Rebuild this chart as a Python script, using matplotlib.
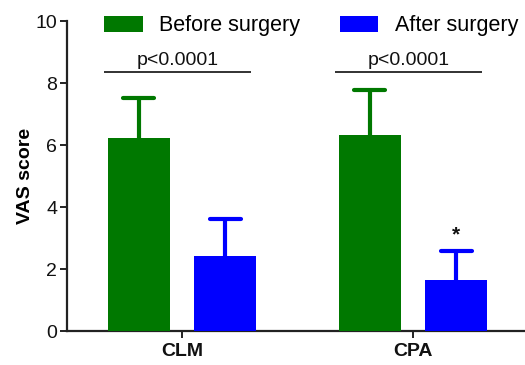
import matplotlib
matplotlib.use("Agg")
import matplotlib.pyplot as plt
from matplotlib.patches import Patch
import numpy as np

plt.rcParams['font.family'] = ['Liberation Sans', 'DejaVu Sans']

groups = ["CLM", "CPA"]
series = ["Before surgery", "After surgery"]
before_mean = [6.23, 6.32]
before_err = [1.29, 1.45]
after_mean = [2.42, 1.65]
after_err = [1.18, 0.93]
p_labels = ["p<0.0001", "p<0.0001"]
colors = ["#007800", "#0000ff"]

fig = plt.figure(figsize=(5.25, 3.65), dpi=100)
ax = fig.add_axes([67/525, 34/365, 1 - 67/525, 310/365])

x = np.arange(len(groups))
w = 0.268
off = 0.188
cap = 0.068
for i, (means, errs) in enumerate([(before_mean, before_err), (after_mean, after_err)]):
    pos = x + (-off if i == 0 else off)
    means = np.array(means)
    tops = means + np.array(errs)
    ax.vlines(pos, means, tops, colors=colors[i], lw=3.0, zorder=2)
    for p_, t_ in zip(pos, tops):
        ax.plot([p_ - cap, p_ + cap], [t_, t_], color=colors[i], lw=3.0,
                solid_capstyle='round', zorder=2)
    ax.bar(pos, means, width=w, color=colors[i], zorder=3, label=series[i])

# significance lines
for gi, lab in enumerate(p_labels):
    x0 = gi - off - w/2 - 0.015
    x1 = gi + off + w/2 - 0.025
    ax.plot([x0, x1], [8.35, 8.35], color='#222222', lw=1.3, solid_capstyle='butt', clip_on=False)
    ax.text((x0 + x1)/2, 8.45, lab, ha='center', va='bottom', fontsize=14, color='#111111')

# star on CPA after
ax.text(1 + off, after_mean[1] + after_err[1] + 0.2, "*", ha='center', va='bottom',
        fontsize=15, fontweight='bold', color='#111111')

ax.set_xlim(-0.498, 1.485)
ax.set_ylim(0, 10)
ax.set_yticks([0, 2, 4, 6, 8, 10])
ax.set_xticks(x)
ax.set_xticklabels(groups, fontsize=14, fontweight='bold')
ax.tick_params(axis='y', labelsize=14, length=5, width=1.4, color='#222222', labelcolor='#111111', pad=2)
ax.tick_params(axis='x', length=5, width=1.4, color='#222222', labelcolor='#111111', pad=4)
ax.set_ylabel("VAS score", fontsize=14, fontweight='bold', labelpad=1)
for s in ['top', 'right']:
    ax.spines[s].set_visible(False)
for s in ['left', 'bottom']:
    ax.spines[s].set_linewidth(1.6)
    ax.spines[s].set_color('#222222')

handles = [Patch(facecolor=colors[0], edgecolor='none', label=series[0]),
           Patch(facecolor=colors[1], edgecolor='none', label=series[1])]
fig.legend(handles=handles, loc='center left', bbox_to_anchor=(104/525, 1 - 26/365),
           ncol=2, frameon=False, fontsize=15.5, handlelength=1.8, handleheight=0.75,
           handletextpad=0.75, columnspacing=1.85, borderpad=0, borderaxespad=0)

fig.savefig("out.png", dpi=100)
